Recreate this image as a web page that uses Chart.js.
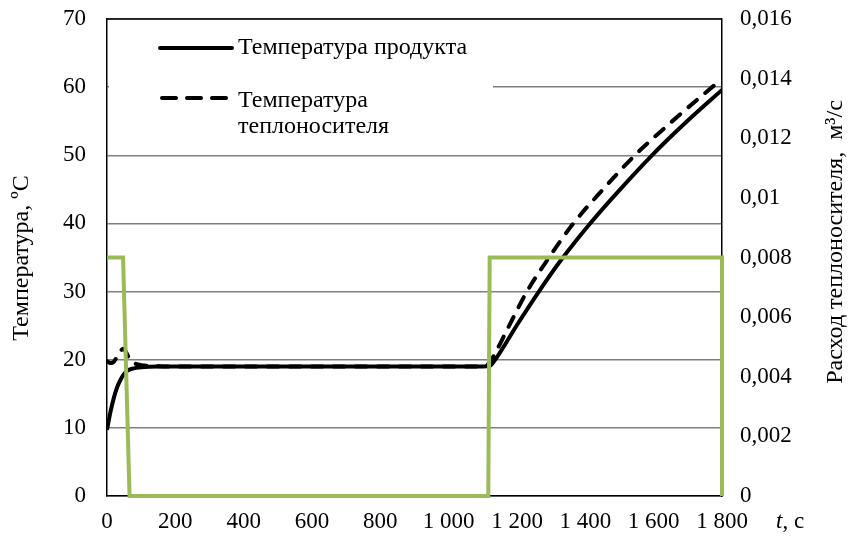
<!DOCTYPE html>
<html>
<head>
<meta charset="utf-8">
<script src="https://cdn.jsdelivr.net/npm/chart.js@4"></script>
<style>
  body { margin: 0; background: #fff; }
  #wrap { width: 851px; height: 538px; }
</style>
</head>
<body>
<div id="wrap"><canvas id="chart"></canvas></div>
<script>
// Values: time in seconds, temperatures in degrees C, flow in m3/s.
const productTime = [0, 10, 20, 30, 40, 50, 60, 75, 100, 150, 200, 400, 600, 800, 1000, 1100, 1120, 1136, 1200,
  1264, 1330, 1414, 1500, 1595, 1700, 1800];
const productTemp = [9.7, 12.3, 14.4, 16, 17.1, 17.9, 18.4, 18.7, 18.9, 19, 19, 19, 19, 19, 19, 19, 19.1, 20, 25.1,
  30, 34.7, 40, 44.9, 50, 55.1, 59.6];

const carrierTime = [0, 10, 20, 30, 40, 47, 55, 65, 80, 100, 150, 200, 400, 600, 800, 1000, 1100, 1110, 1125, 1175,
  1229, 1295, 1365, 1450, 1545, 1650, 1771, 1800];
const carrierTemp = [19.8, 19.5, 19.7, 20.5, 21.3, 21.6, 21.2, 20.2, 19.5, 19.2, 19.05, 19, 19, 19, 19, 19, 19, 19.1, 20, 24.8,
  30, 35.1, 40, 44.9, 50, 54.8, 60, 61.2];

const flowTime = [0, 47, 66, 1116, 1120, 1800, 1800];
const flowRate = [0.008, 0.008, 0, 0, 0.008, 0.008, 0];

const legendLabels = ['Температура продукта', ['Температура', 'теплоносителя']];
const leftTitle = 'Температура, ºС';
const rightTitle = 'Расход теплоносителя,  м³/с';

const FONT = '"Liberation Serif", "Times New Roman", serif';
const TICK_SIZE = 23;
const TEXT_SIZE = 24;
const GREEN = '#9bbb59';
const DASH = [11, 11];
const LEGEND_DASH = [14, 11];

function toPoints(xs, ys) {
  return xs.map((x, i) => ({ x: x, y: ys[i] }));
}

// Thousands separated by a space, decimals by a comma.
function fmtTime(v) {
  return String(v).replace(/\B(?=(\d{3})+(?!\d))/g, ' ');
}
function fmtFlow(v) {
  return v === 0 ? '0' : String(+v.toFixed(3)).replace('.', ',');
}

// No extra room for half labels: the plot box is placed by hand.
function noPad(s) {
  s.paddingTop = 0;
  s.paddingBottom = 0;
  s.paddingLeft = 0;
  s.paddingRight = 0;
}

// Legend box, frame and axis titles are drawn by hand.
const overlay = {
  id: 'overlay',
  beforeDatasetsDraw(chart) {
    const ctx = chart.ctx;
    const a = chart.chartArea;
    ctx.save();
    ctx.fillStyle = '#fff';
    ctx.fillRect(a.left + 2, a.top + 2, 384, 122);
    ctx.restore();
  },
  afterDraw(chart) {
    const ctx = chart.ctx;
    const a = chart.chartArea;
    ctx.save();
    // top of the frame
    ctx.strokeStyle = '#000';
    ctx.lineWidth = 1.5;
    ctx.beginPath();
    ctx.moveTo(a.left, a.top);
    ctx.lineTo(a.right, a.top);
    ctx.stroke();

    // legend samples
    ctx.lineWidth = 4;
    ctx.lineCap = 'round';
    ctx.beginPath();
    ctx.moveTo(160, 48);
    ctx.lineTo(232, 48);
    ctx.stroke();
    ctx.setLineDash(LEGEND_DASH);
    ctx.beginPath();
    ctx.moveTo(162, 98);
    ctx.lineTo(228, 98);
    ctx.stroke();
    ctx.setLineDash([]);

    ctx.fillStyle = '#000';
    ctx.font = TEXT_SIZE + 'px ' + FONT;
    ctx.textAlign = 'left';
    ctx.textBaseline = 'middle';
    ctx.fillText(legendLabels[0], 238, 48);
    ctx.fillText(legendLabels[1][0], 238, 101);
    ctx.fillText(legendLabels[1][1], 238, 127);

    // x axis unit
    ctx.font = 'italic ' + TICK_SIZE + 'px ' + FONT;
    ctx.fillText('t', 776, 522);
    const tw = ctx.measureText('t').width;
    ctx.font = TICK_SIZE + 'px ' + FONT;
    ctx.fillText(', с', 776 + tw, 522);

    // rotated axis titles
    ctx.font = TEXT_SIZE + 'px ' + FONT;
    ctx.textAlign = 'center';
    ctx.save();
    ctx.translate(22, 258);
    ctx.rotate(-Math.PI / 2);
    ctx.fillText(leftTitle, 0, 0);
    ctx.restore();
    ctx.save();
    ctx.translate(836, 242);
    ctx.rotate(-Math.PI / 2);
    ctx.fillText(rightTitle, 0, 0);
    ctx.restore();
    ctx.restore();
  }
};

const ctx = document.getElementById('chart');
new Chart(ctx, {
  type: 'line',
  data: {
    datasets: [
      {
        label: 'Расход',
        data: toPoints(flowTime, flowRate),
        yAxisID: 'y2',
        borderColor: GREEN,
        borderWidth: 4,
        tension: 0,
        pointRadius: 0,
        clip: false
      },
      {
        label: legendLabels[0],
        data: toPoints(productTime, productTemp),
        yAxisID: 'y',
        borderColor: '#000',
        borderWidth: 4,
        cubicInterpolationMode: 'monotone',
        pointRadius: 0
      },
      {
        label: legendLabels[1].join(' '),
        data: toPoints(carrierTime, carrierTemp),
        yAxisID: 'y',
        borderColor: '#000',
        borderWidth: 4,
        borderDash: DASH,
        borderCapStyle: 'round',
        cubicInterpolationMode: 'monotone',
        pointRadius: 0
      }
    ]
  },
  options: {
    responsive: true,
    maintainAspectRatio: false,
    animation: false,
    layout: { padding: { top: 19, left: 0, right: 0, bottom: 0 } },
    plugins: {
      legend: { display: false },
      tooltip: { enabled: false }
    },
    scales: {
      x: {
        type: 'linear',
        min: 0,
        max: 1800,
        afterFit: (s) => { s.height = 42; noPad(s); },
        grid: { display: false, drawTicks: false },
        border: { display: true, color: '#000', width: 1.5 },
        ticks: {
          stepSize: 200,
          padding: 12,
          maxRotation: 0,
          autoSkip: false,
          color: '#000',
          font: { family: FONT, size: TICK_SIZE },
          callback: (v) => fmtTime(v)
        }
      },
      y: {
        position: 'left',
        min: 0,
        max: 70,
        afterFit: (s) => { s.width = 107; noPad(s); },
        grid: { color: '#7f7f7f', lineWidth: 1.5, drawTicks: false },
        border: { display: true, color: '#000', width: 1.5 },
        ticks: {
          stepSize: 10,
          padding: 21,
          color: '#000',
          font: { family: FONT, size: TICK_SIZE }
        }
      },
      y2: {
        position: 'right',
        min: 0,
        max: 0.016,
        afterFit: (s) => { s.width = 129; noPad(s); },
        grid: { display: false, drawTicks: false },
        border: { display: true, color: '#000', width: 1.5 },
        ticks: {
          stepSize: 0.002,
          padding: 18,
          color: '#000',
          font: { family: FONT, size: TICK_SIZE },
          callback: (v) => fmtFlow(v)
        }
      }
    }
  },
  plugins: [overlay]
});
</script>
</body>
</html>
